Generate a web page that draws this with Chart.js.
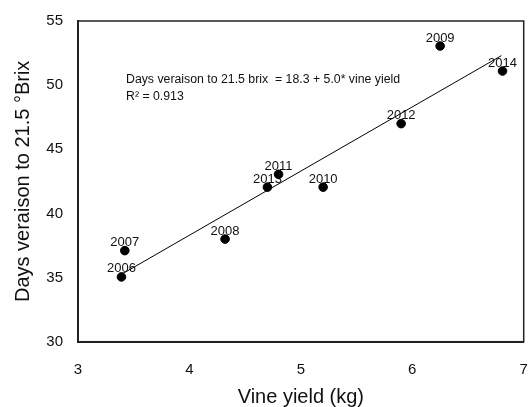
<!DOCTYPE html>
<html>
<head>
<meta charset="utf-8">
<script src="https://cdn.jsdelivr.net/npm/chart.js@4"></script>
<style>
  html, body { margin: 0; padding: 0; background: #fff; }
  #wrap { width: 529px; height: 407px; }
</style>
</head>
<body>
<div id="wrap"><canvas id="chart" width="529" height="407"></canvas></div>
<script>
// Data
const years = ['2006', '2007', '2008', '2013', '2011', '2010', '2012', '2009', '2014'];
const vineYield = [3.39, 3.42, 4.32, 4.70, 4.80, 5.20, 5.90, 6.25, 6.81];
const daysVeraison = [35.05, 37.1, 38.0, 42.05, 43.05, 42.05, 47.0, 53.05, 51.1];
const fitX = [3.40, 6.80];
const fitY = fitX.map(x => 18.3 + 5.0 * x); // regression printed on the chart
const xTicks = [3, 4, 5, 6, 7];
const yTicks = [30, 35, 40, 45, 50, 55];

const FONT = '"Liberation Sans", Arial, sans-serif';

// year labels above points + equation text
const labelPlugin = {
  id: 'labels',
  beforeDatasetsDraw(chart) {
    const { ctx, scales: { x, y } } = chart;
    ctx.save();
    ctx.font = '13px ' + FONT;
    ctx.fillStyle = '#111';
    ctx.textAlign = 'center';
    ctx.textBaseline = 'middle';
    years.forEach((yr, i) => {
      ctx.fillText(yr, x.getPixelForValue(vineYield[i]), y.getPixelForValue(daysVeraison[i]) - 8);
    });
    ctx.font = '12.3px ' + FONT;
    ctx.textAlign = 'left';
    ctx.fillText('Days veraison to 21.5 brix  = 18.3 + 5.0* vine yield', 126, 80);
    ctx.fillText('R² = 0.913', 126, 97);
    ctx.restore();
  },
  afterDraw(chart) {
    const { ctx, chartArea: a } = chart;
    ctx.save();
    ctx.strokeStyle = '#222';
    ctx.lineWidth = 1.5;
    ctx.strokeRect(a.left, a.top, a.right - a.left, a.bottom - a.top);
    ctx.restore();
  }
};

new Chart(document.getElementById('chart'), {
  type: 'scatter',
  data: {
    datasets: [
      {
        label: 'fit',
        type: 'line',
        data: fitX.map((v, i) => ({ x: v, y: fitY[i] })),
        borderColor: '#000',
        borderWidth: 1,
        pointRadius: 0,
        fill: false
      },
      {
        label: 'years',
        data: vineYield.map((v, i) => ({ x: v, y: daysVeraison[i] })),
        backgroundColor: '#000',
        borderColor: '#000',
        pointRadius: 4.3
      }
    ]
  },
  options: {
    responsive: false,
    animation: false,
    layout: { padding: { left: 0, top: 21, right: 4.5, bottom: 0 } },
    plugins: { legend: { display: false }, tooltip: { enabled: false } },
    scales: {
      x: {
        type: 'linear',
        min: 3, max: 7,
        afterBuildTicks: s => { s.ticks = xTicks.map(v => ({ value: v })); },
        afterFit: s => { s.height = 65.3; s.paddingLeft = 0; s.paddingRight = 0; },
        grid: { display: false, drawTicks: true, tickLength: 5, tickColor: '#222' },
        border: { color: '#222', width: 2 },
        ticks: { color: '#111', font: { size: 15, family: FONT }, padding: 14 },
        title: { display: true, text: 'Vine yield (kg)', color: '#111', font: { size: 20, family: FONT, lineHeight: 1 }, padding: { top: 0, bottom: 0 } }
      },
      y: {
        min: 30, max: 55,
        afterBuildTicks: s => { s.ticks = yTicks.map(v => ({ value: v })); },
        afterFit: s => { s.width = 78; s.paddingTop = 0; s.paddingBottom = 0; },
        grid: { display: false, drawTicks: true, tickLength: 5, tickColor: '#222' },
        border: { color: '#222', width: 2 },
        ticks: { color: '#111', font: { size: 15, family: FONT }, padding: 10 },
        title: { display: true, text: 'Days veraison to 21.5 °Brix', color: '#111', font: { size: 20, family: FONT, lineHeight: 1 }, padding: { top: 13, bottom: 0 } }
      }
    }
  },
  plugins: [labelPlugin]
});
</script>
</body>
</html>
